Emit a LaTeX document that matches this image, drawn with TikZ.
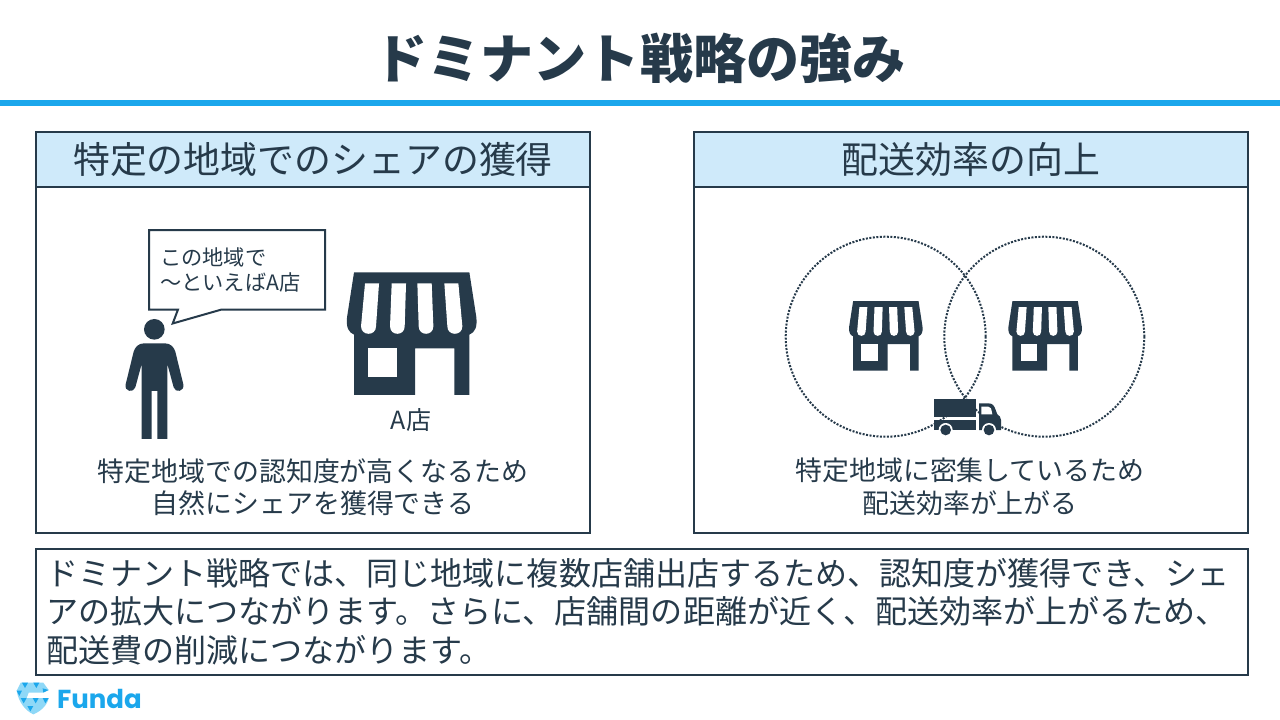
\documentclass[tikz,border=0pt]{standalone}
\usepackage{fontspec}
\setmainfont{Noto Sans CJK JP}
\newfontfamily\logofont{Poppins}[Scale=1]
\definecolor{ink}{HTML}{263A4A}
\definecolor{rulecol}{HTML}{1BA7EC}
\definecolor{headfill}{HTML}{CFEAFA}
\definecolor{logolight}{HTML}{8FD8F7}
\newcommand{\fs}[2]{\fontsize{#1}{#2}\selectfont}
\tikzset{
  x=1pt,y=-1pt,
  panel/.style={draw=ink,line width=2pt,fill=white,minimum width=554pt,minimum height=401pt,inner sep=0pt,outer sep=0pt,anchor=north west},
  headbox/.style={draw=ink,line width=2pt,fill=headfill,minimum width=554pt,minimum height=55pt,inner sep=0pt,outer sep=0pt,anchor=north west,text=ink,font=\fs{36.9}{40}},
  bodytext/.style={text=ink,align=center,inner sep=0pt,font=\fs{26.9}{32.5}},
  zone/.style={draw=ink,line width=2pt,dash pattern=on 2pt off 1.5pt,circle,minimum size=200pt,inner sep=0pt,outer sep=0pt},
  store/.pic={
    \fill[ink] (22,0)--(368,0)--(389,135) .. controls (392,165) and (385,180) .. (368,187)--(368,368)--(323,368)--(323,228)--(205,228)--(205,368)--(22,368)--(22,187) .. controls (5,180) and (-2,165) .. (1,135)--cycle;
    \fill[white] (65,228) rectangle (152,315);
    \foreach \a/\b/\c/\d in {55/97/43/88,135/178/130/174,212/255/216/260,293/335/302/347}{
      \fill[white] (\a,33)--(\b,33)--(\d,162) .. controls (\d,192) and (\c,192) .. (\c,162)--cycle;
    }
  },
}
\begin{document}
\begin{tikzpicture}
\useasboundingbox (0,0) rectangle (1280,720);
\fill[white] (0,0) rectangle (1280,720);
% title
\node[text=ink,font=\fs{53.1}{56}\bfseries,inner sep=0pt] (title) at (640,58) {ドミナント戦略の強み};
\fill[rulecol] (0,100) rectangle (1280,106);
% panels
\node[panel] (lpanel) at (36,132) {};
\node[headbox] (lhead) at (36,132) {特定の地域でのシェアの獲得};
\node[panel] (rpanel) at (694,132) {};
\node[headbox] (rhead) at (694,132) {配送効率の向上};
\node[bodytext] (ltext) at (313,487) {特定地域での認知度が高くなるため\\自然にシェアを獲得できる};
\node[bodytext] (rtext) at (970,487) {特定地域に密集しているため\\配送効率が上がる};
% left icons
\pic[scale=0.3333] at (346.7,272.3) {store};
\node[text=ink,font=\fs{25}{28},inner sep=0pt] (alabel) at (411,420) {A店};
\begin{scope}[shift={(110,220)},scale=0.3333]
  \fill[ink] (133,328) circle (31);
  \fill[ink] (133,370)--(165,370) .. controls (182,370) and (192,382) .. (196,395)--(220,493) .. controls (224,515) and (196,520) .. (191,502)--(172,432)--(172,657)--(142,657)--(142,513)--(125,513)--(125,657)--(95,657)--(95,432)--(76,502) .. controls (70,520) and (42,515) .. (47,493)--(71,395) .. controls (75,382) and (85,370) .. (102,370)--cycle;
\end{scope}
\draw[ink,line width=2pt,fill=white,line join=miter] (149,230)--(325,230)--(325,309.5)--(221.7,309.5)--(172.7,323.5)--(178,309.5)--(149,309.5)--cycle;
\node[text=ink,align=left,anchor=north west,inner sep=0pt,font=\fs{21.2}{25}] (speech) at (160,247) {この地域で\\〜といえばA店};
% right icons
\node[zone] (zoneA) at (885.7,336.7) {};
\node[zone] (zoneB) at (1044.3,336.7) {};
\pic[scale=0.1889] at (849,301) {store};
\pic[scale=0.1889] at (1008.3,301) {store};
\begin{scope}[shift={(920,385)},scale=0.3333]
  \fill[ink] (42,42) rectangle (168,97);
  \fill[ink] (42,105) rectangle (168,135);
  \fill[ink] (177,55)--(205,55) .. controls (218,55) and (222,62) .. (226,72)--(232,88) .. controls (238,92) and (243,96) .. (243,105)--(243,135)--(177,135)--cycle;
  \fill[white] (184,65)--(205,65) .. controls (212,65) and (214,70) .. (217,88)--(184,88)--cycle;
  \fill[white] (77,135) circle (21);
  \fill[white] (207,135) circle (21);
  \fill[ink] (77,135) circle (16);
  \fill[ink] (207,135) circle (16);
\end{scope}
% bottom box
\node[draw=ink,line width=2pt,fill=white,minimum width=1212pt,minimum height=126pt,inner sep=0pt,outer sep=0pt,anchor=north west] (summary) at (36,549) {};
\node[text=ink,align=left,anchor=west,inner sep=0pt,font=\fs{32.05}{38.5}] (summarytext) at (46,611.5) {ドミナント戦略では、同じ地域に複数店舗出店するため、認知度が獲得でき、シェ\\アの拡大につながります。さらに、店舗間の距離が近く、配送効率が上がるため、\\配送費の削減につながります。};
% logo
\begin{scope}[shift={(0,670)},scale=0.3333]
  \fill[logolight] (62,38)--(130,38)--(146,60)--(128,68)--(86,68)--(80,84)--(146,84) .. controls (142,108) and (118,126) .. (100,133) .. controls (80,124) and (56,100) .. (50,62)--cycle;
  \fill[rulecol] (66,38)--(84,38)--(75,54)--cycle (100,38)--(118,38)--(109,54)--cycle (50,62)--(66,62)--(58,78)--cycle (128,55)--(146,60)--(130,68)--cycle (62,84)--(80,84)--(71,100)--cycle (98,84)--(116,84)--(107,100)--cycle (128,84)--(146,84)--(136,100)--cycle (82,108)--(100,108)--(91,124)--cycle;
\end{scope}
\node[text=rulecol,anchor=west,inner sep=0pt,font=\logofont\fs{26}{30}\bfseries] (logo) at (57,699) {Funda};
\end{tikzpicture}
\end{document}
